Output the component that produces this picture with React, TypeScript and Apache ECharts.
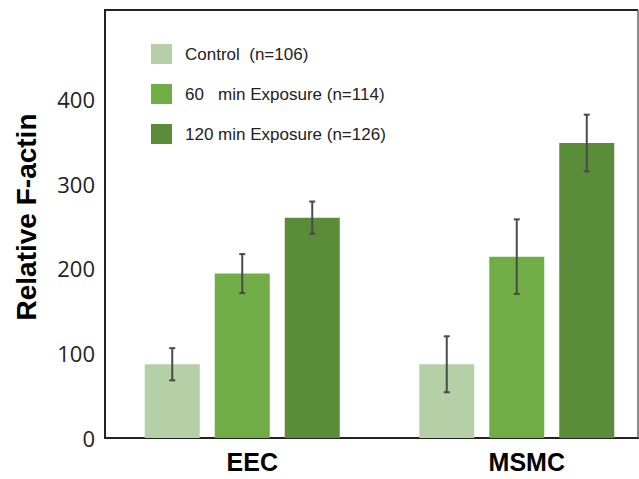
import React, { useEffect, useRef } from "react";
import * as echarts from "echarts";

const categories = ["EEC", "MSMC"];
const seriesNames = ["Control  (n=106)", "60   min Exposure (n=114)", "120 min Exposure (n=126)"];
const controlValues = [87, 87];
const min60Values = [194, 214];
const min120Values = [260, 348];
const controlErr = [19, 33];
const min60Err = [23, 44];
const min120Err = [19, 33.5];
const yTicks = [0, 100, 200, 300, 400];

const COLORS = ["#b5cfa7", "#70ad47", "#5b8c39"];
const BAR_WIDTH = 55;
const BAR_GAP_PX = 15;
const FONT = "'Liberation Sans', Arial, sans-serif";

export default function App() {
  const ref = useRef<HTMLDivElement>(null);
  useEffect(() => {
    if (!ref.current) return;
    const chart = echarts.init(ref.current, null, { renderer: "svg" });
    const values = [controlValues, min60Values, min120Values];
    const errs = [controlErr, min60Err, min120Err];
    const errData: number[][] = [];
    values.forEach((arr, s) => {
      arr.forEach((v, i) => errData.push([i, v, errs[s][i], s]));
    });
    const gridLeft = 105;
    const gridTop = 10;
    const gridBottomY = 438;
    const rightX = 638;
    chart.setOption({
      animation: false,
      backgroundColor: "#ffffff",
      grid: { left: gridLeft, top: gridTop, width: 549, height: gridBottomY - gridTop, containLabel: false },
      legend: {
        orient: "vertical",
        left: 151,
        top: 44,
        padding: 0,
        itemWidth: 21,
        itemHeight: 20,
        itemGap: 20,
        icon: "rect",
        data: seriesNames,
        textStyle: { fontFamily: FONT, fontSize: 17, color: "#222", padding: [0, 0, 0, 8] },
      },
      xAxis: {
        type: "category",
        data: categories,
        axisLine: { lineStyle: { color: "#222", width: 2 } },
        axisTick: { show: false },
        axisLabel: {
          fontFamily: FONT,
          fontSize: 25,
          fontWeight: "bold",
          color: "#000",
          margin: 11,
          padding: [0, 0, 0, 20],
        },
      },
      yAxis: {
        type: "value",
        min: 0,
        max: 505,
        interval: 100,
        splitLine: { show: false },
        axisLine: { show: true, lineStyle: { color: "#222", width: 2 } },
        axisTick: { show: false },
        axisLabel: {
          fontFamily: "'Open Sans', sans-serif",
          fontSize: 22,
          color: "#222",
          margin: 10,
          formatter: (v: number) => (yTicks.includes(v) ? String(v) : ""),
        },
        name: "Relative F-actin",
        nameLocation: "middle",
        nameRotate: 90,
        nameGap: 65,
        nameTextStyle: {
          fontFamily: FONT,
          fontSize: 28,
          fontWeight: "bold",
          color: "#000",
          padding: [0, 0, 0, 14],
        },
      },
      series: [
        ...values.map((arr, s) => ({
          type: "bar",
          name: seriesNames[s],
          data: arr,
          barWidth: BAR_WIDTH,
          barGap: `${(BAR_GAP_PX / BAR_WIDTH) * 100}%`,
          itemStyle: { color: COLORS[s] },
        })),
        {
          type: "custom",
          name: "errors",
          z: 10,
          data: errData,
          renderItem: (params: any, api: any) => {
            const x = api.value(0);
            const v = api.value(1);
            const e = api.value(2);
            const s = api.value(3);
            const c = api.coord([x, v]);
            const top = api.coord([x, v + e]);
            const bot = api.coord([x, v - e]);
            const cx = c[0] + (s - 1) * (BAR_WIDTH + BAR_GAP_PX);
            const style = { stroke: "#4a4a4a", lineWidth: 2 };
            const cap = 3;
            return {
              type: "group",
              children: [
                { type: "line", shape: { x1: cx, y1: top[1], x2: cx, y2: bot[1] }, style },
                { type: "line", shape: { x1: cx - cap, y1: top[1], x2: cx + cap, y2: top[1] }, style },
                { type: "line", shape: { x1: cx - cap, y1: bot[1], x2: cx + cap, y2: bot[1] }, style },
              ],
            };
          },
        },
      ],
      graphic: [
        {
          type: "line",
          shape: { x1: gridLeft - 1, y1: gridTop, x2: rightX, y2: gridTop },
          style: { stroke: "#222", lineWidth: 2 },
          z: 20,
        },
        {
          type: "line",
          shape: { x1: rightX, y1: gridTop, x2: rightX, y2: gridBottomY },
          style: { stroke: "#666", lineWidth: 1.5 },
          z: 20,
        },
        {
          type: "rect",
          shape: { x: rightX + 1, y: 0, width: 60, height: 479 },
          style: { fill: "#ffffff" },
          z: 19,
        },
      ],
    });
    return () => chart.dispose();
  }, []);
  return (
    <div style={{ position: "absolute", left: 0, top: 0, width: 639, height: 479, overflow: "hidden" }}>
      <div ref={ref} style={{ width: 680, height: 479 }} />
    </div>
  );
}
